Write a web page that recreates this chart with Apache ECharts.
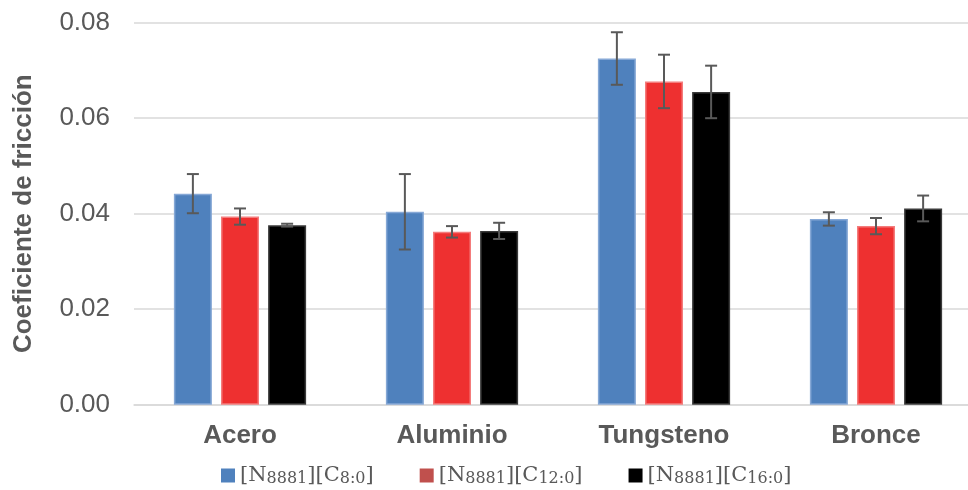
<!DOCTYPE html>
<html>
<head>
<meta charset="utf-8">
<script src="https://cdn.jsdelivr.net/npm/echarts@6/dist/echarts.min.js"></script>
<style>html,body{margin:0;padding:0;background:#fff;overflow:hidden;width:968px;height:490px}#chart{width:982px;height:490px}</style>
</head>
<body>
<div id="chart"></div>
<script>
const categories = ['Acero', 'Aluminio', 'Tungsteno', 'Bronce'];
const seriesNames = ['C8:0', 'C12:0', 'C16:0'];
const subLabels = ['8:0', '12:0', '16:0'];
const c8 = [0.0442, 0.0404, 0.0725, 0.0389];
const c8Err = [0.0041, 0.0079, 0.0055, 0.0014];
const c12 = [0.0394, 0.0362, 0.0677, 0.0374];
const c12Err = [0.0017, 0.0012, 0.0056, 0.0017];
const c16 = [0.0376, 0.0364, 0.0655, 0.0411];
const c16Err = [0.0003, 0.0017, 0.0055, 0.0027];
const yTicks = [0, 0.02, 0.04, 0.06, 0.08];

const values = [c8, c12, c16];
const errors = [c8Err, c12Err, c16Err];
const barColors = ['#4F81BD', '#EE3030', '#000000'];
const borderColors = ['#86A8D6', '#F47C7C', '#3A3A3A'];
const legendColors = ['#4F81BD', '#C0504D', '#000000'];
const BAR_W = 38, BAR_GAP = 0.24;

const chart = echarts.init(document.getElementById('chart'));
const series = [];
values.forEach((vals, i) => {
  series.push({
    name: seriesNames[i], type: 'bar', data: vals,
    barWidth: BAR_W, barGap: (BAR_GAP * 100) + '%',
    itemStyle: { color: barColors[i], borderColor: borderColors[i], borderWidth: 1.5 },
    z: 2
  });
});
values.forEach((vals, i) => {
  series.push({
    name: 'err' + i, type: 'custom', z: 5,
    data: vals.map((v, k) => [k, v, errors[i][k]]),
    renderItem: function (params, api) {
      const k = api.value(0), v = api.value(1), e = api.value(2);
      const off = (i - 1) * BAR_W * (1 + BAR_GAP);
      const top = api.coord([k, v + e]);
      const bot = api.coord([k, v - e]);
      const x = top[0] + off;
      const cap = 6;
      const st = { stroke: '#595959', lineWidth: 2, fill: null };
      return { type: 'group', children: [
        { type: 'line', shape: { x1: x, y1: top[1], x2: x, y2: bot[1] }, style: st },
        { type: 'line', shape: { x1: x - cap, y1: top[1], x2: x + cap, y2: top[1] }, style: st },
        { type: 'line', shape: { x1: x - cap, y1: bot[1], x2: x + cap, y2: bot[1] }, style: st }
      ]};
    }
  });
});

chart.setOption({
  animation: false,
  backgroundColor: '#fff',
  grid: { left: 134, top: 22.7, right: 0, bottom: 85.3, containLabel: false },
  legend: {
    data: seriesNames.map((n, i) => ({ name: n, itemStyle: { color: legendColors[i], borderWidth: 0 } })),
    left: 216, top: 460, icon: 'rect', itemWidth: 14, itemHeight: 14, itemGap: 46,
    formatter: function (name) {
      const i = seriesNames.indexOf(name);
      return '{m|[N}{s|8881}{m|][C}{s|' + subLabels[i] + '}{m|]}';
    },
    textStyle: {
      rich: {
        m: { fontFamily: 'DejaVu Serif', fontSize: 21, color: '#595959' },
        s: { fontFamily: 'DejaVu Serif', fontSize: 16, color: '#595959', padding: [7, 0, 0, 0] }
      }
    }
  },
  xAxis: {
    type: 'category', data: categories,
    axisLine: { lineStyle: { color: '#D9D9D9', width: 1.5 } },
    axisTick: { show: false },
    axisLabel: { fontFamily: 'Liberation Sans', fontWeight: 'bold', fontSize: 26, color: '#595959', margin: 18 }
  },
  yAxis: {
    type: 'value', min: 0, max: 0.08, interval: 0.02,
    name: 'Coeficiente de fricción', nameLocation: 'middle', nameGap: 97,
    nameTextStyle: { fontFamily: 'Liberation Sans', fontWeight: 'bold', fontSize: 26, color: '#595959' },
    axisLine: { show: false }, axisTick: { show: false },
    axisLabel: { fontFamily: 'Liberation Sans', fontSize: 26, color: '#595959', margin: 24,
      formatter: v => yTicks.includes(Math.round(v * 100) / 100) ? v.toFixed(2) : '' },
    splitLine: { lineStyle: { color: '#D9D9D9', width: 1.5 } }
  },
  series: series
});
</script>
</body>
</html>
